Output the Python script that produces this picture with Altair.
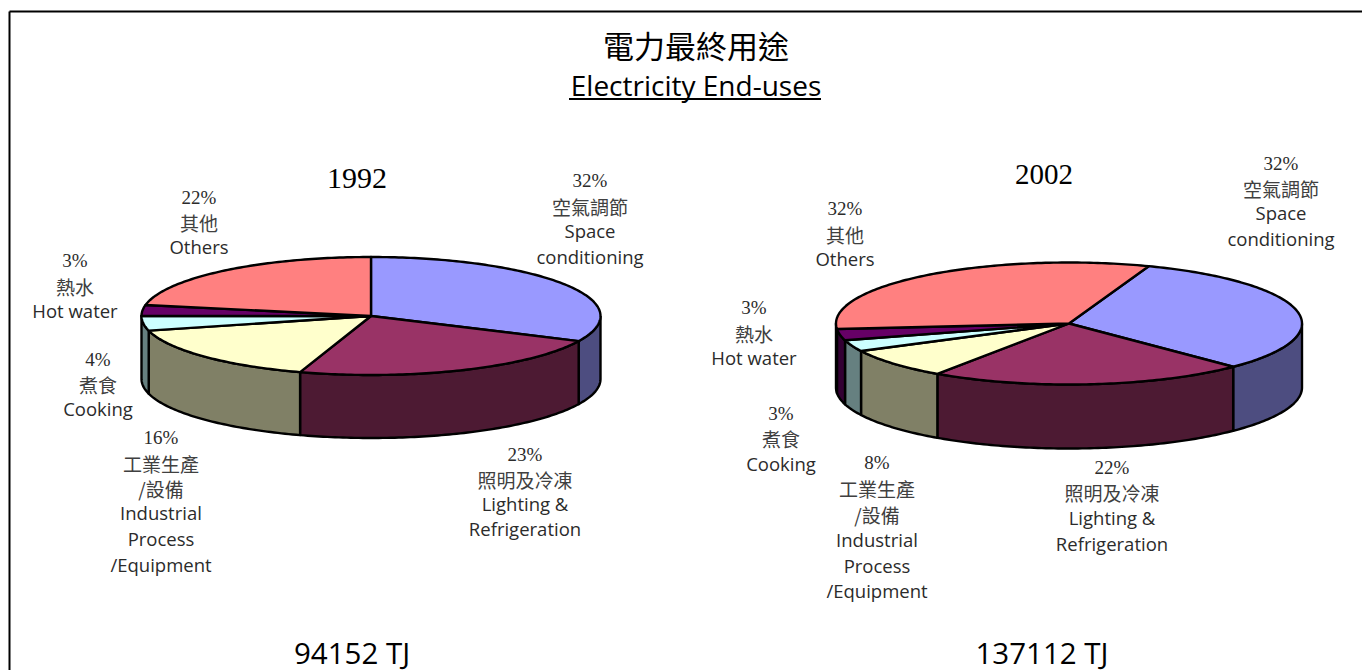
import math
import altair as alt
import pandas as pd

W, H = 1354, 662
CJK = "Noto Sans CJK TC"
LATIN = "Open Sans"
SERIF = "Liberation Serif"
INK = "#2b2b2b"
CJK_INK = "#404040"

categories = ["Space", "Lighting", "Industrial", "Cooking", "Hot water", "Others"]
shares_1992 = [32, 23, 16, 4, 3, 22]
shares_2002 = [32, 22, 8, 3, 3, 32]
top_colors = ["#9999FF", "#993366", "#FFFFCC", "#CCFFFF", "#660066", "#FF8080"]
side_colors = ["#4D4D80", "#4D1A33", "#808066", "#668080", "#330033", "#804040"]

# pie geometry: centre x, centre y, radius x, radius y, depth, first-slice angle
pie_1992 = (363, 308, 229.5, 59, 63, 0)
pie_2002 = (1061, 315.5, 233, 61, 64, 20)

x_scale = alt.Scale(domain=[0, W], range=[0, W], nice=False, zero=False)
y_scale = alt.Scale(domain=[0, H], range=[0, H], nice=False, zero=False)


def arc(cx, cy, rx, ry, a, b):
    n = max(2, int(abs(b - a)) + 1)
    pts = []
    for i in range(n + 1):
        t = math.radians(a + (b - a) * i / n)
        pts.append((cx + rx * math.sin(t), cy - ry * math.cos(t)))
    return pts


def face(points, fill):
    closed = points + [points[0]]
    df = pd.DataFrame(
        {"px": [p[0] for p in closed], "py": [p[1] for p in closed], "i": range(len(closed))}
    )
    return (
        alt.Chart(df)
        .mark_line(fill=fill, stroke="black", strokeWidth=2.4, strokeJoin="round", clip=False)
        .encode(
            x=alt.X("px:Q", scale=x_scale, axis=None),
            y=alt.Y("py:Q", scale=y_scale, axis=None),
            order=alt.Order("i:Q"),
        )
    )


def pie(shares, geom):
    cx, cy, rx, ry, depth, start = geom
    sides, tops = [], []
    a = start
    for s, top, side in zip(shares, top_colors, side_colors):
        b = a + s * 3.6
        lo, hi = max(a, 90), min(b, 270)
        if hi > lo:
            upper = arc(cx, cy, rx, ry, lo, hi)
            lower = arc(cx, cy + depth, rx, ry, hi, lo)
            sides.append(face(upper + lower, side))
        tops.append(face([(cx, cy)] + arc(cx, cy, rx, ry, a, b), top))
        a = b
    return sides + tops


def text(t, x, y, size=19, font=LATIN, color=INK):
    return (
        alt.Chart(pd.DataFrame({"t": [t]}))
        .mark_text(font=font, fontSize=size, color=color, align="center", baseline="middle")
        .encode(text="t:N", x=alt.value(x - 8), y=alt.value(y - 8))
    )


def label(x, ys, lines):
    out = []
    for y, t in zip(ys, lines):
        if t.endswith("%"):
            out.append(text(t, x, y + 1, 19, SERIF))
        elif ord(t[0]) > 0x2000 or (t[0] == "/" and ord(t[1]) > 0x2000):
            out.append(text(t, x, y + 1.5, 19, CJK, CJK_INK))
        else:
            out.append(text(t, x, y + 1, 18.5, LATIN))
    return out


layers = []
layers += pie(shares_1992, pie_1992)
layers += pie(shares_2002, pie_2002)

# frame and title underline
rule = lambda **kw: alt.Chart(pd.DataFrame({"a": [0]})).mark_rule(color="black", strokeWidth=2).encode(**kw)
layers.append(rule(x=alt.value(1.5), y=alt.value(3.5), y2=alt.value(H)))
layers.append(rule(x=alt.value(1.5), x2=alt.value(W), y=alt.value(3.5)))
layers.append(rule(x=alt.value(569 - 8), x2=alt.value(821 - 8), y=alt.value(99 - 8)))

layers += [
    text("電力最終用途", 696, 49, 31, CJK, "black"),
    text("Electricity End-uses", 696, 88, 28, LATIN, "black"),
    text("1992", 357, 179, 30, SERIF, "black"),
    text("2002", 1044, 175, 29, SERIF, "black"),
    text("94152 TJ", 352, 655, 29.5, LATIN, "black"),
    text("137112 TJ", 1042, 655, 29.5, LATIN, "black"),
]

layers += label(590, [180, 207, 231, 257], [f"{shares_1992[0]}%", "空氣調節", "Space", "conditioning"])
layers += label(525, [454, 480, 504, 529], [f"{shares_1992[1]}%", "照明及冷凍", "Lighting &", "Refrigeration"])
layers += label(161, [437, 464, 489, 513, 539, 565], [f"{shares_1992[2]}%", "工業生產", "/設備", "Industrial", "Process", "/Equipment"])
layers += label(98, [359, 385, 409], [f"{shares_1992[3]}%", "煮食", "Cooking"])
layers += label(75, [260, 287, 311], [f"{shares_1992[4]}%", "熱水", "Hot water"])
layers += label(199, [197, 223, 247], [f"{shares_1992[5]}%", "其他", "Others"])

layers += label(1281, [163, 189, 213, 239], [f"{shares_2002[0]}%", "空氣調節", "Space", "conditioning"])
layers += label(1112, [467, 493, 518, 544], [f"{shares_2002[1]}%", "照明及冷凍", "Lighting &", "Refrigeration"])
layers += label(877, [462, 489, 515, 540, 566, 591], [f"{shares_2002[2]}%", "工業生產", "/設備", "Industrial", "Process", "/Equipment"])
layers += label(781, [413, 439, 464], [f"{shares_2002[3]}%", "煮食", "Cooking"])
layers += label(754, [307, 334, 358], [f"{shares_2002[4]}%", "熱水", "Hot water"])
layers += label(845, [208, 235, 259], [f"{shares_2002[5]}%", "其他", "Others"])

chart = (
    alt.layer(*layers)
    .properties(width=W, height=H, padding=0, autosize=alt.AutoSizeParams(type="none"), background="white")
    .configure_view(stroke=None)
)

chart.save("out.html", embed_options={"renderer": "svg", "actions": False})
